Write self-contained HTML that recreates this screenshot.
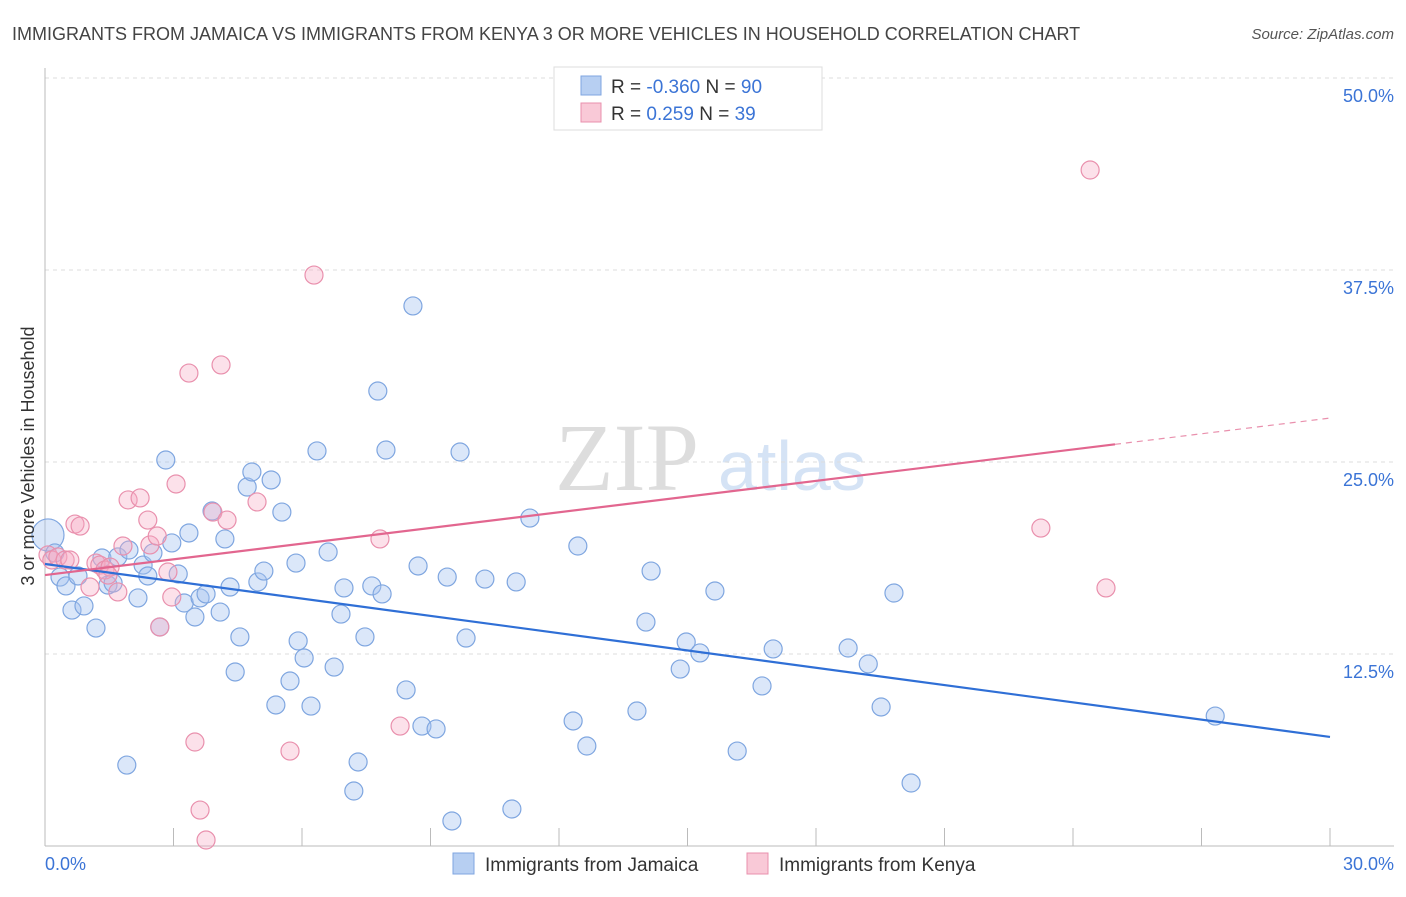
<!DOCTYPE html>
<html><head><meta charset="utf-8"><style>
body{margin:0;background:#fff;font-family:"Liberation Sans",sans-serif;}
</style></head><body>
<svg id="chart" width="1406" height="892" xmlns="http://www.w3.org/2000/svg">
<text x="12" y="40" font-size="18" fill="#444">IMMIGRANTS FROM JAMAICA VS IMMIGRANTS FROM KENYA 3 OR MORE VEHICLES IN HOUSEHOLD CORRELATION CHART</text>
<text x="1394" y="39" font-size="15" fill="#555" font-style="italic" text-anchor="end">Source: ZipAtlas.com</text>
<g><text x="555" y="490" font-size="96" fill="#ddd" font-family="Liberation Serif,serif">ZIP</text><text x="718" y="490" font-size="70" fill="#d5e3f5">atlas</text></g>
<g id="grid"></g><g id="axes"></g><g id="marks"></g><g id="lines"></g>
<g>
<rect x="554" y="67" width="268" height="63" fill="#fff" stroke="#ddd"/>
<rect x="581" y="76" width="20" height="19" fill="#b7cff2" stroke="#7fa6e0"/>
<rect x="581" y="103" width="20" height="19" fill="#f9c9d7" stroke="#e990ad"/>
<text x="611" y="93" font-size="19" fill="#333">R = <tspan fill="#3b74d6">-0.360</tspan>   N = <tspan fill="#3b74d6">90</tspan></text>
<text x="611" y="120" font-size="19" fill="#333">R =   <tspan fill="#3b74d6">0.259</tspan>   N =  <tspan fill="#3b74d6">39</tspan></text>
</g>
<g>
<rect x="453" y="853" width="21" height="21" fill="#b7cff2" stroke="#7fa6e0"/>
<text x="485" y="871" font-size="19" fill="#333">Immigrants from Jamaica</text>
<rect x="747" y="853" width="21" height="21" fill="#f9c9d7" stroke="#e990ad"/>
<text x="779" y="871" font-size="19" fill="#333">Immigrants from Kenya</text>
</g>
<text transform="translate(34,456) rotate(-90)" font-size="18" fill="#333" text-anchor="middle">3 or more Vehicles in Household</text>
</svg>
<script>
const yTicks=[12.5,25,37.5,50];
const yTickLabels=["12.5%","25.0%","37.5%","50.0%"];
const xTickLabels=["0.0%","30.0%"];
const jamX=[0.07,0.23,0.35,0.49,0.63,0.77,0.91,1.19,1.33,1.47,1.59,1.70,1.91,1.96,2.17,2.29,2.40,2.52,2.68,2.82,2.96,3.11,3.25,3.36,3.50,3.62,3.76,3.90,4.09,4.20,4.32,4.44,4.55,4.72,4.83,4.97,5.11,5.28,5.39,5.53,5.72,5.86,5.91,6.05,6.21,6.35,6.61,6.75,6.91,6.98,7.31,7.21,7.47,7.63,7.77,7.87,7.96,8.43,8.59,8.71,8.80,9.13,9.39,9.50,9.69,9.83,10.27,10.90,11.00,11.32,12.33,12.44,12.65,13.82,14.03,14.15,14.83,14.97,15.29,15.64,16.16,16.74,17.00,18.75,19.22,19.52,19.82,20.22,27.32];
const jamY=[20.25,19.08,17.51,16.93,15.36,17.58,15.63,14.19,18.75,16.99,17.12,18.82,5.27,19.27,16.15,18.29,17.58,19.08,14.26,25.13,19.73,17.71,15.82,20.38,14.91,16.15,16.41,21.81,15.23,19.99,16.86,11.33,13.61,23.37,24.35,17.19,17.90,23.83,9.18,21.74,10.74,18.42,13.35,12.24,9.11,25.72,19.14,11.65,15.10,16.80,5.47,3.58,13.61,16.93,29.62,16.41,25.78,10.16,35.16,18.23,7.81,7.62,17.51,1.63,25.65,13.54,17.38,2.41,17.19,21.35,8.14,19.53,6.51,8.79,14.58,17.90,11.52,13.28,12.57,16.60,6.18,10.42,12.83,12.89,11.85,9.05,16.47,4.10,8.46];
const kenX=[0.07,0.16,0.30,0.47,0.58,0.70,0.82,1.05,1.19,1.28,1.40,1.52,1.47,1.70,1.82,1.94,2.22,2.40,2.45,2.62,2.68,2.87,2.96,3.06,3.36,3.50,3.62,3.76,3.92,4.11,4.25,4.95,6.28,7.82,8.29,5.72,23.25,24.40,24.77];
const kenY=[18.95,18.62,18.82,18.62,18.62,20.96,20.83,16.86,18.42,18.29,17.97,18.16,17.64,16.54,19.53,22.53,22.66,21.22,19.60,20.18,14.26,17.84,16.21,23.57,30.79,6.77,2.34,0.39,21.74,31.32,21.22,22.40,37.17,19.99,7.81,6.18,20.70,44.01,16.80];
const jamTrend=[18.36,7.1];
const kenTrend=[17.64,27.86];
const kenSolidEnd=24.98;
const NS="http://www.w3.org/2000/svg";
const X=v=>45+v*(1285/30), Y=v=>846-v*(768/50);
function mk(t,a,p){const e=document.createElementNS(NS,t);for(const k in a)e.setAttribute(k,a[k]);p.appendChild(e);return e;}
const grid=document.getElementById('grid'),axes=document.getElementById('axes'),marks=document.getElementById('marks'),lines=document.getElementById('lines');
yTicks.forEach((t,i)=>{const l=mk('line',{x1:45,x2:1394,y1:Y(t),y2:Y(t),stroke:'#ddd','stroke-dasharray':'4,4'},grid);

const tx=mk('text',{x:1394,y:Y(t)+24,'font-size':18,fill:'#3b74d6','text-anchor':'end'},axes);tx.textContent=yTickLabels[i];
});
const xa=mk('line',{x1:45,x2:1394,y1:846,y2:846,stroke:'#bbb'},axes);
const ya=mk('line',{x1:45,x2:45,y1:68,y2:846,stroke:'#bbb'},axes);
for(let i=1;i<=10;i++){const t=mk('line',{x1:X(i*3),x2:X(i*3),y1:828,y2:846,stroke:'#bbb'},axes);}
[[0,'start',45],[30,'end',1394]].forEach((d,i)=>{const t=mk('text',{x:d[2],y:870,'font-size':18,fill:'#3b74d6','text-anchor':d[1]},axes);t.textContent=xTickLabels[i];});
jamX.forEach((x,i)=>{const c=mk('circle',{cx:X(x),cy:Y(jamY[i]),r:i===0?16:9,fill:'rgba(164,194,240,0.4)',stroke:'#7fa6e0','stroke-width':1.2},marks);
});
kenX.forEach((x,i)=>{const c=mk('circle',{cx:X(x),cy:Y(kenY[i]),r:9,fill:'rgba(245,170,195,0.35)',stroke:'#e990ad','stroke-width':1.2},marks);
});
const jl=mk('line',{x1:X(0),y1:Y(jamTrend[0]),x2:X(30),y2:Y(jamTrend[1]),stroke:'#2f6fd6','stroke-width':2.2},lines);

const ky=x=>kenTrend[0]+(kenTrend[1]-kenTrend[0])*x/30;
const kl=mk('line',{x1:X(0),y1:Y(ky(0)),x2:X(kenSolidEnd),y2:Y(ky(kenSolidEnd)),stroke:'#e2668f','stroke-width':2.2},lines);

const kd=mk('line',{x1:X(kenSolidEnd),y1:Y(ky(kenSolidEnd)),x2:X(30),y2:Y(ky(30)),stroke:'#e990ad','stroke-width':1.2,'stroke-dasharray':'6,5'},lines);

</script>
</body></html>
